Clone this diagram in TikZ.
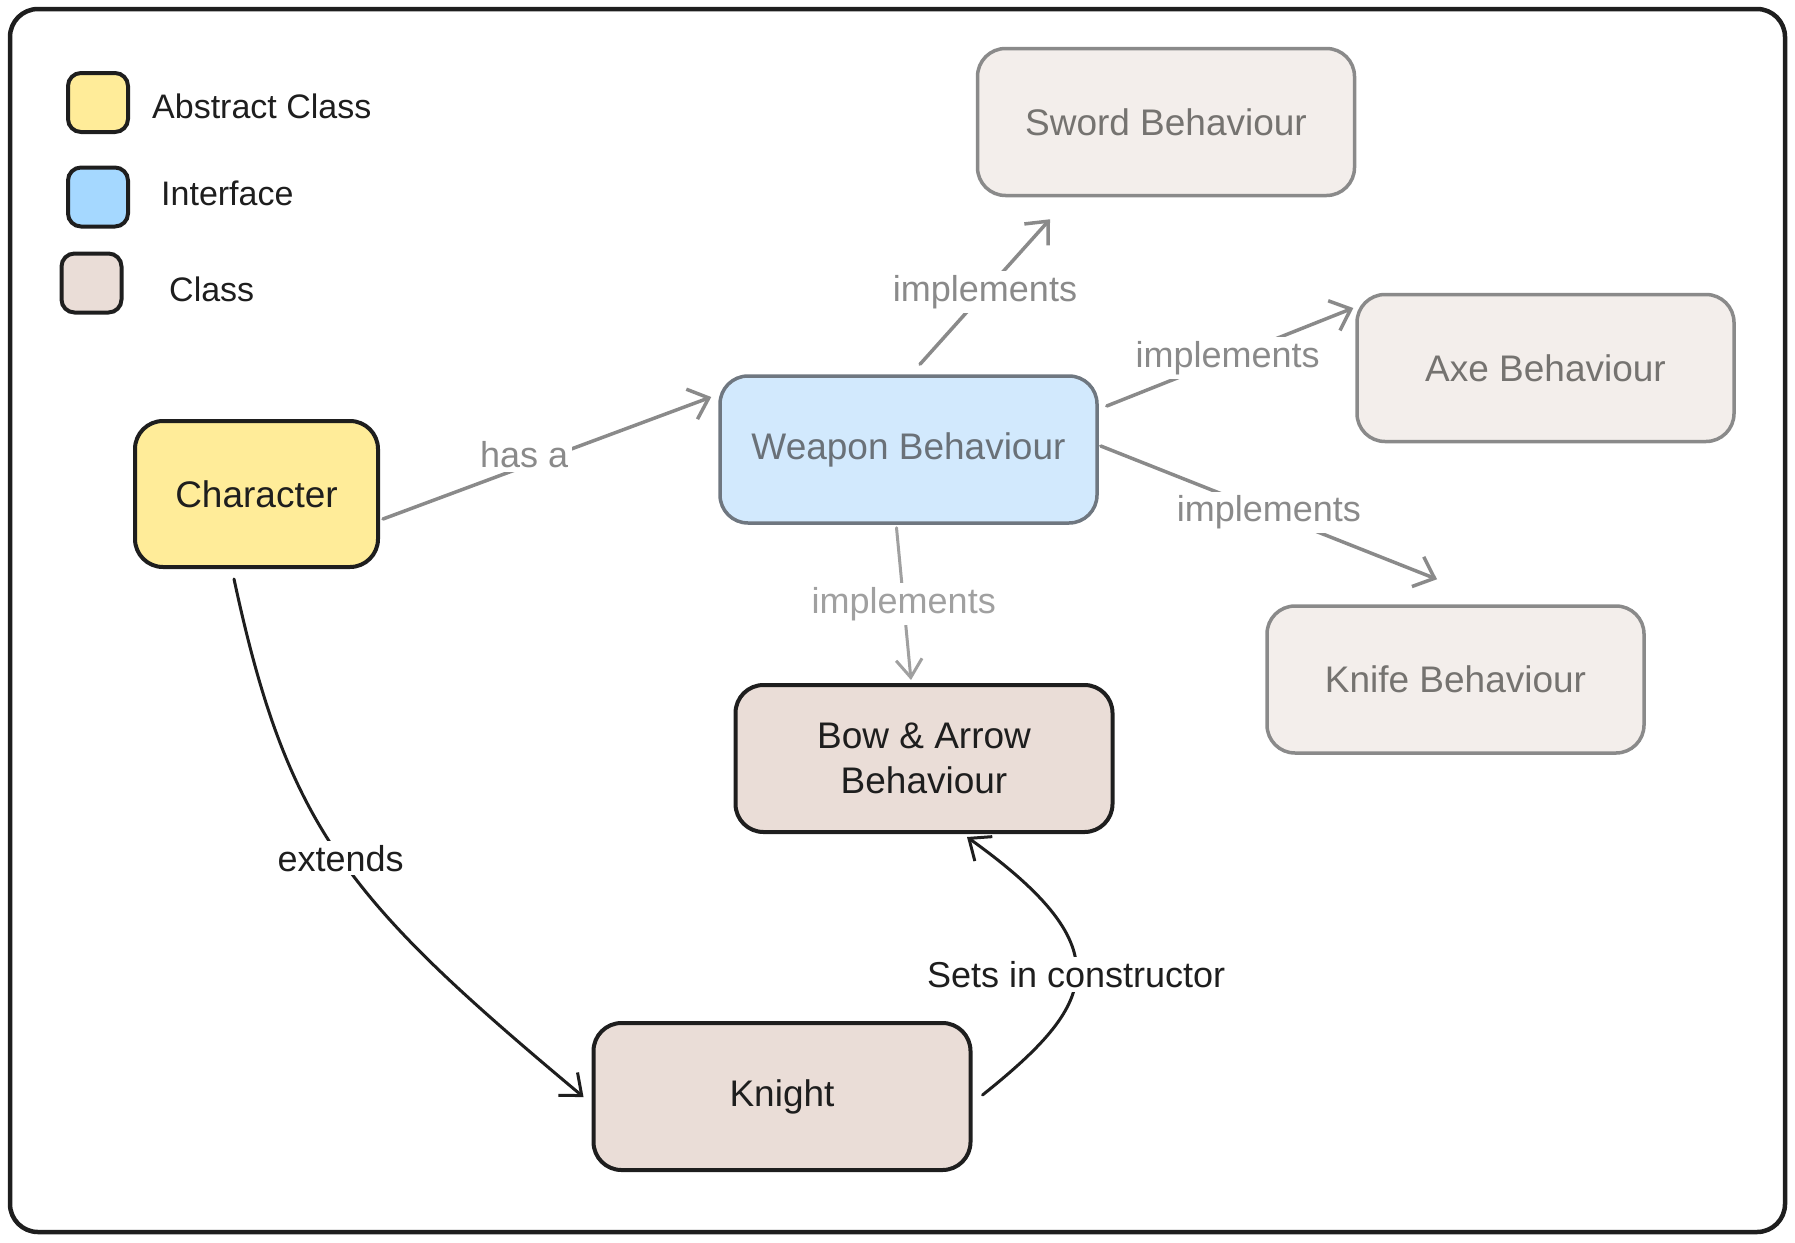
\documentclass[tikz,border=0pt]{standalone}
\usepackage{fontspec}
\setmainfont{Liberation Sans}
\usetikzlibrary{arrows.meta,calc}
\definecolor{ink}{HTML}{1E1E1E}
\definecolor{yelfill}{HTML}{FFEC99}
\definecolor{bluefill}{HTML}{A5D8FF}
\definecolor{bluelight}{HTML}{D2E9FD}
\definecolor{clsfill}{HTML}{EADDD7}
\definecolor{clslight}{HTML}{F3EEEB}
\definecolor{grayline}{HTML}{8A8A8A}
\definecolor{graytext}{HTML}{757370}
\definecolor{bluestroke}{HTML}{6F7780}
\definecolor{bluetext}{HTML}{6A7178}
\definecolor{lightgray}{HTML}{A0A0A0}
\tikzset{
  box/.style={draw=ink, line width=4pt, rounded corners=28pt, minimum width=377pt,
    minimum height=147pt, align=center, font=\fontsize{37}{45}\selectfont, text=ink, inner sep=0pt},
  charbox/.style={box, fill=yelfill, minimum width=243pt, minimum height=146pt},
  ifacebox/.style={box, fill=bluelight, draw=bluestroke, line width=3.5pt, text=bluetext},
  clsbox/.style={box, fill=clsfill},
  impbox/.style={box, fill=clslight, draw=grayline, line width=3.5pt, text=graytext},
  legbox/.style={draw=ink, line width=4pt, rounded corners=13pt, minimum width=60pt, minimum height=59pt, inner sep=0pt},
  legtext/.style={anchor=west, font=\fontsize{34}{42}\selectfont, text=ink, inner sep=0pt},
  lbl/.style={fill=white, font=\fontsize{36}{45}\selectfont, inner sep=4pt},
  garrow/.style={draw=grayline, line width=3.5pt, line cap=round, -{Straight Barb[length=18pt,width=32pt,line width=3.5pt]}},
  larrow/.style={draw=lightgray, line width=3pt, line cap=round, -{Straight Barb[length=18pt,width=26pt,line width=3pt]}},
  karrow/.style={draw=ink, line width=3pt, line cap=round, -{Straight Barb[length=18pt,width=30pt,line width=3pt]}},
}
\begin{document}
\begin{tikzpicture}[x=1pt,y=-1pt]
\useasboundingbox (0,0) rectangle (1795,1242);
\draw[ink, line width=4.5pt, rounded corners=28pt] (10,9) rectangle (1785,1232);

% legend
\node[legbox, fill=yelfill] (legA) at (98,102.5) {};
\node[legbox, fill=bluefill] (legI) at (98,197) {};
\node[legbox, fill=clsfill] (legC) at (91.5,283) {};
\node[legtext] (legAt) at (152,106) {Abstract Class};
\node[legtext] (legIt) at (161,193) {Interface};
\node[legtext] (legCt) at (169,289) {Class};

% nodes
\node[charbox] (char) at (256.5,494) {Character};
\node[ifacebox] (weapon) at (908.5,449.5) {Weapon Behaviour};
\node[impbox] (sword) at (1166,122) {Sword Behaviour};
\node[impbox] (axe) at (1545.5,368) {Axe Behaviour};
\node[impbox] (knife) at (1455.5,679.5) {Knife Behaviour};
\node[clsbox] (bow) at (924,758.5) {Bow \& Arrow\\Behaviour};
\node[clsbox] (knight) at (782,1096.5) {Knight};

% connectors
\draw[garrow] ($(char.east)+(3,25)$) -- node[lbl, text=grayline, pos=0.43, yshift=12pt] {has a} ($(weapon.west)+(-7,-52.5)$);
\draw[garrow] ($(weapon.north)+(11.5,-10)$) -- node[lbl, text=grayline, pos=0.5] {implements} ($(sword.south)+(-116,22)$);
\draw[garrow] ($(weapon.east)+(8,-43.5)$) -- node[lbl, text=grayline, pos=0.49] {implements} ($(axe.west)+(-2,-60)$);
\draw[garrow] ($(weapon.east)+(2,-3.5)$) -- node[lbl, text=grayline, pos=0.5] {implements} ($(knife.north)+(-18.5,-25)$);
\draw[larrow] ($(weapon.south)+(-12,3)$) -- node[lbl, text=lightgray, pos=0.5] {implements} ($(bow.north)+(-13,-3)$);
\draw[karrow] ($(char.south)+(-22.5,10)$) .. controls (288,830) and (348,900) .. node[lbl, text=ink, pos=0.5] {extends} ($(knight.west)+(-8,0.5)$);
\draw[karrow] ($(knight.east)+(10,-1.5)$) .. controls (1095,1005) and (1125,950) .. node[lbl, text=ink, pos=0.5] {Sets in constructor} ($(bow.south)+(43,3)$);
\end{tikzpicture}
\end{document}
